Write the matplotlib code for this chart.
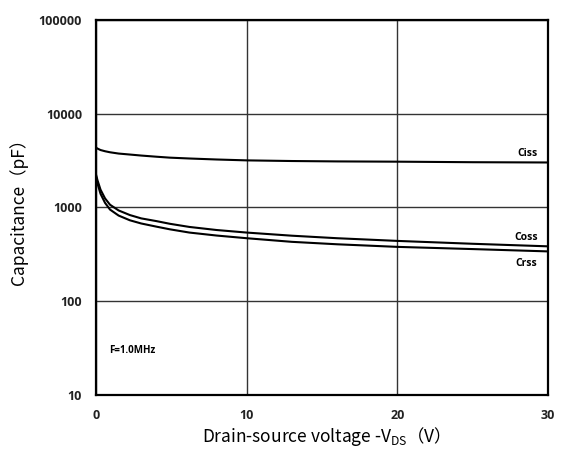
import matplotlib.pyplot as plt
from matplotlib.ticker import FixedLocator, NullLocator

# Curve data (VDS in V, capacitance in pF)
vds = [0, 0.1, 0.3, 0.6, 0.93, 1.5, 2.25, 3.0, 4.0, 4.9, 6.2, 8.0, 10, 13, 16, 20, 25, 30]
ciss = [4350, 4250, 4100, 3980, 3880, 3760, 3670, 3580, 3480, 3400, 3330, 3250, 3180, 3130, 3100, 3080, 3040, 3020]
coss = [2250, 1950, 1550, 1250, 1070, 930, 830, 765, 716, 670, 620, 575, 540, 500, 470, 440, 410, 385]
crss = [2150, 1800, 1400, 1120, 950, 820, 730, 675, 625, 585, 540, 502, 470, 430, 405, 380, 360, 340]

y_ticks = [10, 100, 1000, 10000, 100000]
x_ticks = [0, 10, 20, 30]

plt.rcParams['font.family'] = ['Open Sans', 'Noto Sans CJK SC', 'DejaVu Sans']
plt.rcParams['mathtext.fontset'] = 'custom'
plt.rcParams['mathtext.rm'] = 'Noto Sans CJK SC'

fig = plt.figure(figsize=(5.63, 4.54), dpi=100)
ax = fig.add_axes([0.1705, 0.13, 0.803, 0.826])

for series in (ciss, coss, crss):
    ax.plot(vds, series, color='black', lw=1.5)

ax.set_yscale('log')
ax.set_xlim(0, 30)
ax.set_ylim(10, 100000)
ax.yaxis.set_major_locator(FixedLocator(y_ticks))
ax.yaxis.set_minor_locator(NullLocator())
ax.set_yticks(y_ticks, [str(t) for t in y_ticks])
ax.set_xticks(x_ticks, [str(t) for t in x_ticks])
ax.grid(True, color='#333333', lw=1.0)
ax.tick_params(length=0, labelsize=9, pad=10, colors='#222222')
for lab in ax.get_xticklabels() + ax.get_yticklabels():
    lab.set_fontweight('bold')
for sp in ax.spines.values():
    sp.set_linewidth(1.6)

cjk = ['Noto Sans CJK SC', 'DejaVu Sans']
ax.set_ylabel('Capacitance（pF）', fontsize=12.5, labelpad=8, family=cjk)
ax.set_xlabel(r'Drain-source voltage -V$\mathregular{_{DS}}$（V）', fontsize=12.5,
              labelpad=2, family=cjk)

ax.text(29.3, 3300, 'Ciss', ha='right', va='bottom', fontsize=7.5, fontweight='bold')
ax.text(29.3, 420, 'Coss', ha='right', va='bottom', fontsize=7.5, fontweight='bold')
ax.text(29.3, 290, 'Crss', ha='right', va='top', fontsize=7.5, fontweight='bold')
ax.text(0.9, 30, 'F=1.0MHz', ha='left', va='center', fontsize=7, fontweight='bold')

fig.savefig('out.png', dpi=100)
